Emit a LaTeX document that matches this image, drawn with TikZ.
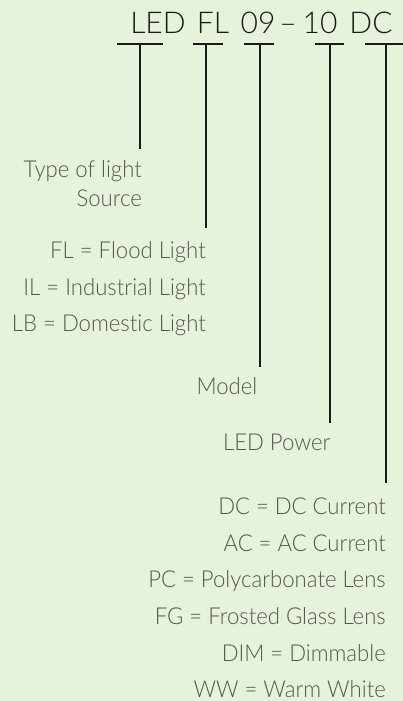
\documentclass[tikz,border=0pt]{standalone}
\usepackage{fontspec}
\setmainfont{Lato}[UprightFont=* Light, Ligatures={NoCommon,NoRare}]
\newfontfamily\lblfont{Lato}[UprightFont=* Light, Ligatures={NoCommon,NoRare}, FakeStretch=0.95]
\definecolor{bg}{HTML}{E6F2D9}
\definecolor{ink}{HTML}{1A1A1A}
\definecolor{lab}{HTML}{555555}
\tikzset{
  code/.style={text=ink, font=\fontsize{30}{34}\selectfont, inner sep=0pt, anchor=base},
  lbl/.style={text=lab, font=\lblfont\fontsize{23.3}{26}\selectfont, inner sep=0pt, anchor=base east},
  bar/.style={draw=ink, line width=2pt},
}
\begin{document}
\begin{tikzpicture}[x=1pt,y=-1pt]
\fill[bg] (0,0) rectangle (403,701);
\useasboundingbox (0,0) rectangle (403,701);
% code text
\node[code] (tLED) at (158,33.3) {LED};
\node[code] (tFL) at (213,33.3) {FL};
\node[code] (t09) at (258,33.3) {09};
\node[code] (tdash) at (288,33.3) {–};
\node[code] (t10) at (320,33.3) {10};
\node[code] (tDC) at (371,33.3) {DC};
% T bars
\coordinate (b1l) at (117,44); \coordinate (b1r) at (163,44);
\coordinate (b2l) at (193,44); \coordinate (b2r) at (223,44);
\coordinate (b3l) at (244,44); \coordinate (b3r) at (274,44);
\coordinate (b4l) at (315,44); \coordinate (b4r) at (344,44);
\coordinate (b5l) at (365,44); \coordinate (b5r) at (404,44);
\coordinate (v1t) at (140,44); \coordinate (v1b) at (140,149);
\coordinate (v2t) at (206,44); \coordinate (v2b) at (206,228);
\coordinate (v3t) at (259.5,44); \coordinate (v3b) at (259.5,367);
\coordinate (v4t) at (330,44); \coordinate (v4b) at (330,423);
\coordinate (v5t) at (385.7,44); \coordinate (v5b) at (385.7,483);
\draw[bar] (b1l) -- (b1r); \draw[bar] (v1t) -- (v1b);
\draw[bar] (b2l) -- (b2r); \draw[bar] (v2t) -- (v2b);
\draw[bar] (b3l) -- (b3r); \draw[bar] (v3t) -- (v3b);
\draw[bar] (b4l) -- (b4r); \draw[bar] (v4t) -- (v4b);
\draw[bar] (b5l) -- (b5r); \draw[bar] (v5t) -- (v5b);
% labels
\node[lbl] (l1a) at (142,177.3) {Type of light};
\node[lbl] (l1b) at (142,206) {Source};
\node[lbl] (l2a) at (206,258.3) {FL = Flood Light};
\node[lbl] (l2b) at (206,295.3) {IL = Industrial Light};
\node[lbl] (l2c) at (206,331.7) {LB = Domestic Light};
\node[lbl] (l3) at (257.5,394) {Model};
\node[lbl] (l4) at (330.7,450) {LED Power};
\node[lbl] (l5a) at (386,514) {DC = DC Current};
\node[lbl] (l5b) at (386,551) {AC = AC Current};
\node[lbl] (l5c) at (386,587.7) {PC = Polycarbonate Lens};
\node[lbl] (l5d) at (386,624.3) {FG = Frosted Glass Lens};
\node[lbl] (l5e) at (386,661) {DIM = Dimmable};
\node[lbl] (l5f) at (386,697.7) {WW = Warm White};
\end{tikzpicture}
\end{document}
